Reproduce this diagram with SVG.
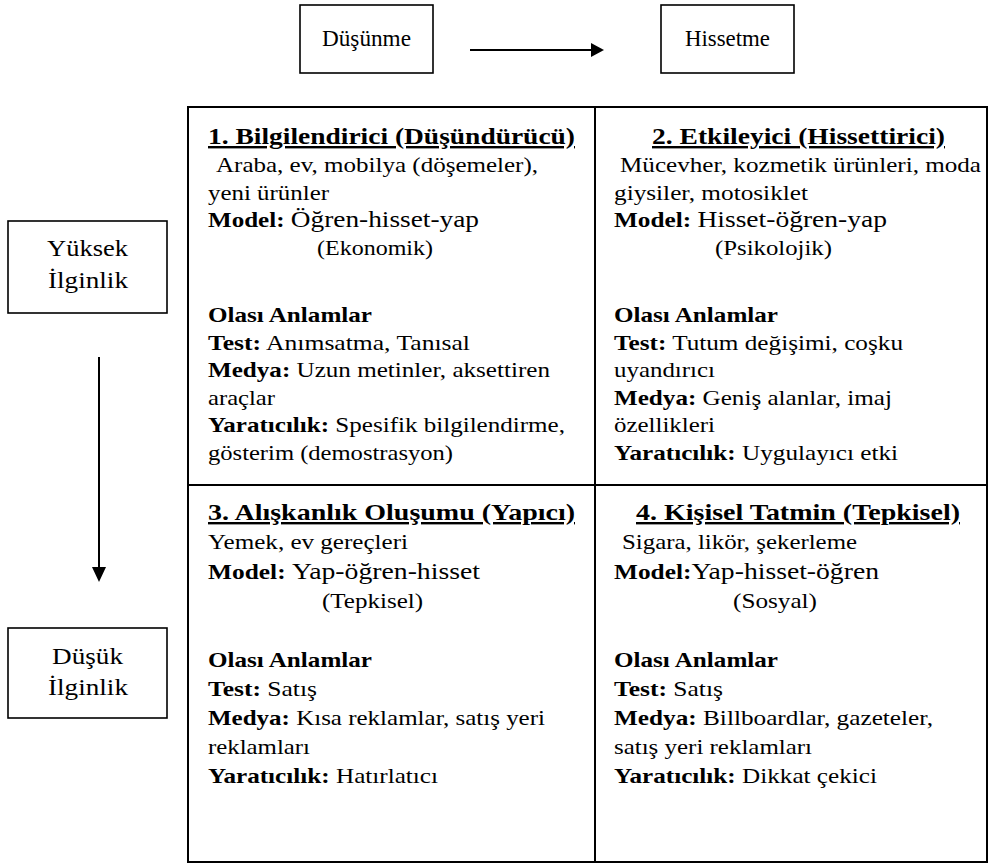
<svg xmlns="http://www.w3.org/2000/svg" width="988" height="865" viewBox="0 0 988 865">
  <style>
    text { font-family: "Liberation Serif", "Times New Roman", serif; fill: #000; }
    .lbl { font-size: 23px; }
    .body { font-size: 22px; }
    .big { font-size: 24px; }
    .head { font-size: 24px; font-weight: bold; text-decoration: underline; }
    .b { font-weight: bold; }
    .box { fill: #fff; stroke: #000; stroke-width: 1.6; }
    .grid { fill: none; stroke: #000; stroke-width: 2; }
    .conn { stroke: #000; stroke-width: 2; fill: none; }
  </style>
  <rect width="988" height="865" fill="#fff"/>

  <!-- axis labels -->
  <g id="dusunme">
    <rect class="box" x="300" y="5" width="133" height="68"/>
    <text class="lbl" x="322" y="46" textLength="89" lengthAdjust="spacingAndGlyphs">Düşünme</text>
  </g>
  <g id="hissetme">
    <rect class="box" x="661" y="5" width="133" height="68"/>
    <text class="lbl" x="685" y="46" textLength="85" lengthAdjust="spacingAndGlyphs">Hissetme</text>
  </g>
  <g id="yuksek">
    <rect class="box" x="8" y="221" width="159" height="92"/>
    <text class="lbl" x="47" y="256" textLength="81" lengthAdjust="spacingAndGlyphs">Yüksek</text>
    <text class="lbl" x="48" y="288" textLength="80" lengthAdjust="spacingAndGlyphs">İlginlik</text>
  </g>
  <g id="dusuk">
    <rect class="box" x="8" y="628" width="159" height="90"/>
    <text class="lbl" x="52" y="664" textLength="71" lengthAdjust="spacingAndGlyphs">Düşük</text>
    <text class="lbl" x="48" y="695" textLength="80" lengthAdjust="spacingAndGlyphs">İlginlik</text>
  </g>

  <!-- connectors -->
  <g id="connectors">
    <line class="conn" x1="470" y1="50" x2="592" y2="50"/>
    <path d="M591,43 L604,50 L591,57 Z" fill="#000"/>
    <line class="conn" x1="99" y1="357" x2="99" y2="568"/>
    <path d="M92,567 L99,582 L106,567 Z" fill="#000"/>
  </g>

  <!-- matrix frame -->
  <g id="matrix">
    <rect class="grid" x="188" y="107" width="799" height="755"/>
    <line class="grid" x1="595" y1="107" x2="595" y2="862"/>
    <line class="grid" x1="188" y1="485" x2="987" y2="485"/>
  </g>

  <!-- quadrant 1 -->
  <g id="q1">
    <text class="head" x="208" y="144" textLength="367" lengthAdjust="spacingAndGlyphs">1. Bilgilendirici (Düşündürücü)</text>
    <text class="body" x="216" y="172" textLength="322" lengthAdjust="spacingAndGlyphs">Araba, ev, mobilya (döşemeler),</text>
    <text class="body" x="208" y="199.5" textLength="121" lengthAdjust="spacingAndGlyphs">yeni ürünler</text>
    <text x="208" y="227" textLength="271" lengthAdjust="spacingAndGlyphs"><tspan class="body b">Model: </tspan><tspan class="big">Öğren-hisset-yap</tspan></text>
    <text class="body" x="317" y="254.5" textLength="116" lengthAdjust="spacingAndGlyphs">(Ekonomik)</text>
    <text class="body b" x="208" y="322" textLength="164" lengthAdjust="spacingAndGlyphs">Olası Anlamlar</text>
    <text class="body" x="208" y="349.5" textLength="262" lengthAdjust="spacingAndGlyphs"><tspan class="b">Test:</tspan> Anımsatma, Tanısal</text>
    <text class="body" x="208" y="377" textLength="342" lengthAdjust="spacingAndGlyphs"><tspan class="b">Medya:</tspan> Uzun metinler, aksettiren</text>
    <text class="body" x="208" y="404.5" textLength="67" lengthAdjust="spacingAndGlyphs">araçlar</text>
    <text class="body" x="208" y="432" textLength="357" lengthAdjust="spacingAndGlyphs"><tspan class="b">Yaratıcılık:</tspan> Spesifik bilgilendirme,</text>
    <text class="body" x="208" y="459.5" textLength="245" lengthAdjust="spacingAndGlyphs">gösterim (demostrasyon)</text>
  </g>

  <!-- quadrant 2 -->
  <g id="q2">
    <text class="head" x="652" y="144" textLength="293" lengthAdjust="spacingAndGlyphs">2. Etkileyici (Hissettirici)</text>
    <text class="body" x="620" y="172" textLength="361" lengthAdjust="spacingAndGlyphs">Mücevher, kozmetik ürünleri, moda</text>
    <text class="body" x="614" y="199.5" textLength="194" lengthAdjust="spacingAndGlyphs">giysiler, motosiklet</text>
    <text x="614" y="227" textLength="273" lengthAdjust="spacingAndGlyphs"><tspan class="body b">Model: </tspan><tspan class="big">Hisset-öğren-yap</tspan></text>
    <text class="body" x="715" y="254.5" textLength="117" lengthAdjust="spacingAndGlyphs">(Psikolojik)</text>
    <text class="body b" x="614" y="322" textLength="164" lengthAdjust="spacingAndGlyphs">Olası Anlamlar</text>
    <text class="body" x="614" y="349.5" textLength="289" lengthAdjust="spacingAndGlyphs"><tspan class="b">Test:</tspan> Tutum değişimi, coşku</text>
    <text class="body" x="614" y="377" textLength="101" lengthAdjust="spacingAndGlyphs">uyandırıcı</text>
    <text class="body" x="614" y="404.5" textLength="278" lengthAdjust="spacingAndGlyphs"><tspan class="b">Medya:</tspan> Geniş alanlar, imaj</text>
    <text class="body" x="614" y="432" textLength="101" lengthAdjust="spacingAndGlyphs">özellikleri</text>
    <text class="body" x="614" y="459.5" textLength="284" lengthAdjust="spacingAndGlyphs"><tspan class="b">Yaratıcılık:</tspan> Uygulayıcı etki</text>
  </g>

  <!-- quadrant 3 -->
  <g id="q3">
    <text class="head" x="208" y="520" textLength="367" lengthAdjust="spacingAndGlyphs">3. Alışkanlık Oluşumu (Yapıcı)</text>
    <text class="body" x="208" y="549" textLength="200" lengthAdjust="spacingAndGlyphs">Yemek, ev gereçleri</text>
    <text x="208" y="579" textLength="272" lengthAdjust="spacingAndGlyphs"><tspan class="body b">Model: </tspan><tspan class="big">Yap-öğren-hisset</tspan></text>
    <text class="body" x="322" y="608" textLength="101" lengthAdjust="spacingAndGlyphs">(Tepkisel)</text>
    <text class="body b" x="208" y="667" textLength="164" lengthAdjust="spacingAndGlyphs">Olası Anlamlar</text>
    <text class="body" x="208" y="696" textLength="109" lengthAdjust="spacingAndGlyphs"><tspan class="b">Test:</tspan> Satış</text>
    <text class="body" x="208" y="725" textLength="337" lengthAdjust="spacingAndGlyphs"><tspan class="b">Medya:</tspan> Kısa reklamlar, satış yeri</text>
    <text class="body" x="208" y="754" textLength="102" lengthAdjust="spacingAndGlyphs">reklamları</text>
    <text class="body" x="208" y="783" textLength="230" lengthAdjust="spacingAndGlyphs"><tspan class="b">Yaratıcılık:</tspan> Hatırlatıcı</text>
  </g>

  <!-- quadrant 4 -->
  <g id="q4">
    <text class="head" x="636" y="520" textLength="324" lengthAdjust="spacingAndGlyphs">4. Kişisel Tatmin (Tepkisel)</text>
    <text class="body" x="622" y="549" textLength="235" lengthAdjust="spacingAndGlyphs">Sigara, likör, şekerleme</text>
    <text x="614" y="579" textLength="265" lengthAdjust="spacingAndGlyphs"><tspan class="body b">Model:</tspan><tspan class="big">Yap-hisset-öğren</tspan></text>
    <text class="body" x="733" y="608" textLength="84" lengthAdjust="spacingAndGlyphs">(Sosyal)</text>
    <text class="body b" x="614" y="667" textLength="164" lengthAdjust="spacingAndGlyphs">Olası Anlamlar</text>
    <text class="body" x="614" y="696" textLength="109" lengthAdjust="spacingAndGlyphs"><tspan class="b">Test:</tspan> Satış</text>
    <text class="body" x="614" y="725" textLength="319" lengthAdjust="spacingAndGlyphs"><tspan class="b">Medya:</tspan> Billboardlar, gazeteler,</text>
    <text class="body" x="614" y="754" textLength="198" lengthAdjust="spacingAndGlyphs">satış yeri reklamları</text>
    <text class="body" x="614" y="783" textLength="263" lengthAdjust="spacingAndGlyphs"><tspan class="b">Yaratıcılık:</tspan> Dikkat çekici</text>
  </g>
</svg>
